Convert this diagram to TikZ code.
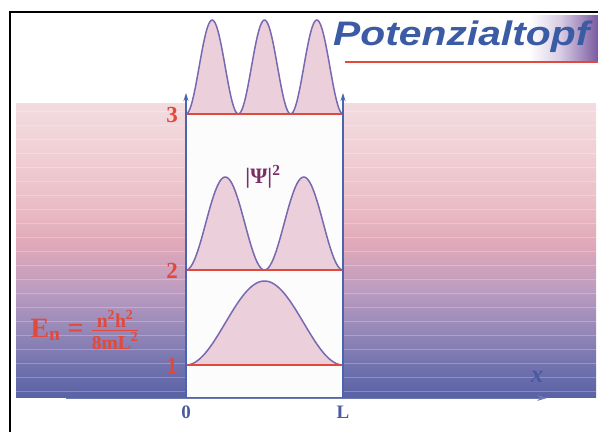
\documentclass[tikz,border=0pt]{standalone}
\usepackage{amsmath}
\usepackage{fontspec}
\usepackage{xcolor}
\setmainfont{Liberation Serif}
\newfontfamily\titlefont{Liberation Sans}
\usetikzlibrary{arrows.meta}

\definecolor{levelred}{HTML}{E2493A}
\definecolor{wallblue}{HTML}{4A64B0}
\definecolor{axisblue}{HTML}{4A5A9E}
\definecolor{curveline}{HTML}{7868B0}
\definecolor{curvefill}{HTML}{EBD0DC}
\definecolor{titleblue}{HTML}{3B5BA5}
\definecolor{titlepurple}{HTML}{7A5AA0}
\definecolor{titlelilac}{HTML}{D8CCE4}
\definecolor{psipurple}{HTML}{7A2C68}
\definecolor{bandA}{HTML}{5A62A4}
\definecolor{bandB}{HTML}{6E70AE}
\definecolor{bandC}{HTML}{9688B8}
\definecolor{bandD}{HTML}{BC9CC0}
\definecolor{bandE}{HTML}{E0A8B8}
\definecolor{bandF}{HTML}{EBBFC8}
\definecolor{bandG}{HTML}{F0D0D6}
\definecolor{bandH}{HTML}{F2DCDF}

% background band: pale pink on top, blue-violet at the bottom
\pgfdeclareverticalshading{bandfade}{100bp}{%
  color(0bp)=(bandA); color(25bp)=(bandA);
  color(29.6bp)=(bandB); color(36.4bp)=(bandC);
  color(43.2bp)=(bandD); color(50.9bp)=(bandE);
  color(58.5bp)=(bandF); color(67bp)=(bandG);
  color(75bp)=(bandH); color(100bp)=(bandH)}
\pgfdeclarehorizontalshading{titlefade}{100bp}{%
  color(0bp)=(white); color(62bp)=(white);
  color(68bp)=(titlelilac); color(75bp)=(titlepurple);
  color(100bp)=(titlepurple)}

\tikzset{
  level/.style={levelred, line width=2.6pt},
  wall/.style={wallblue, line width=1.3pt, -{Stealth[length=8pt,width=5pt]}},
  wave/.style={curveline, line width=1.5pt},
  lvlnum/.style={levelred, font=\bfseries\fontsize{23}{23}\selectfont},
  axnum/.style={axisblue, font=\bfseries\fontsize{19}{19}\selectfont},
}

\begin{document}
\begin{tikzpicture}[x=1pt, y=-1pt]
    \useasboundingbox (0,0) rectangle (598,432);

    % Band behind the well, with faint stripes
    \shade[shading=bandfade] (16,103) rectangle (596,397);
    \foreach \s in {111,125,...,391}
        \draw[white, opacity=0.25, line width=0.7pt] (16,\s) -- (596,\s);

    % Well interior
    \fill[white!98!gray] (186,103) rectangle (343,397);

    % x axis
    \coordinate (axstart) at (66,398);
    \coordinate (axend) at (547,398);
    \draw[axisblue!80, line width=1pt, -{Stealth[length=10pt,width=6pt]}] (axstart) -- (axend);
    \node[axisblue, font=\bfseries\itshape\fontsize{25}{25}\selectfont] (xlab) at (537,377) {x};

    % Probability densities |psi_n|^2 on their levels
    \foreach \n/\lev/\amp in {1/365/84, 2/270/93, 3/114/94} {
        \fill[curvefill, domain=186:343, samples=120]
            plot (\x, {\lev - \amp*sin(\n*180/157*(\x-186))*sin(\n*180/157*(\x-186))}) -- cycle;
        \draw[wave, domain=186:343, samples=120]
            plot (\x, {\lev - \amp*sin(\n*180/157*(\x-186))*sin(\n*180/157*(\x-186))});
        \draw[level] (186,\lev) -- (343,\lev);
        \node[lvlnum] (num\n) at (172,\lev+1) {\n};
    }

    % Walls
    \coordinate (leftfoot) at (186,397);
    \coordinate (lefttop) at (186,93);
    \coordinate (rightfoot) at (343,397);
    \coordinate (righttop) at (343,93);
    \draw[wall] (leftfoot) -- (lefttop);
    \draw[wall] (rightfoot) -- (righttop);

    \node[axnum] (zero) at (186,412) {0};
    \node[axnum] (ell) at (343,412) {L};

    \node[psipurple, font=\bfseries\fontsize{22}{22}\selectfont] (psi) at (263,177)
        {|Ψ|\textsuperscript{2}};

    % Energy formula
    \node[levelred, anchor=west, font=\bfseries\fontsize{28}{28}\selectfont] (energy) at (27,330)
        {E\textsubscript{n} = $\frac{\text{n\textsuperscript{2}h\textsuperscript{2}}}{\text{8mL\textsuperscript{2}}}$};

    % Title
    \shade[shading=titlefade] (330,15) rectangle (598,61);
    \node[titleblue, anchor=base west, inner sep=0pt, font=\titlefont\bfseries\itshape\fontsize{34}{34}\selectfont]
        (title) at (333,45) {\scalebox{1.2}[1]{Potenzialtopf}};
    \draw[levelred, line width=1.8pt] (345,62) -- (598,62);

    % Frame
    \draw[line width=2.6pt] (10,432) -- (10,12) -- (598,12);
\end{tikzpicture}
\end{document}
